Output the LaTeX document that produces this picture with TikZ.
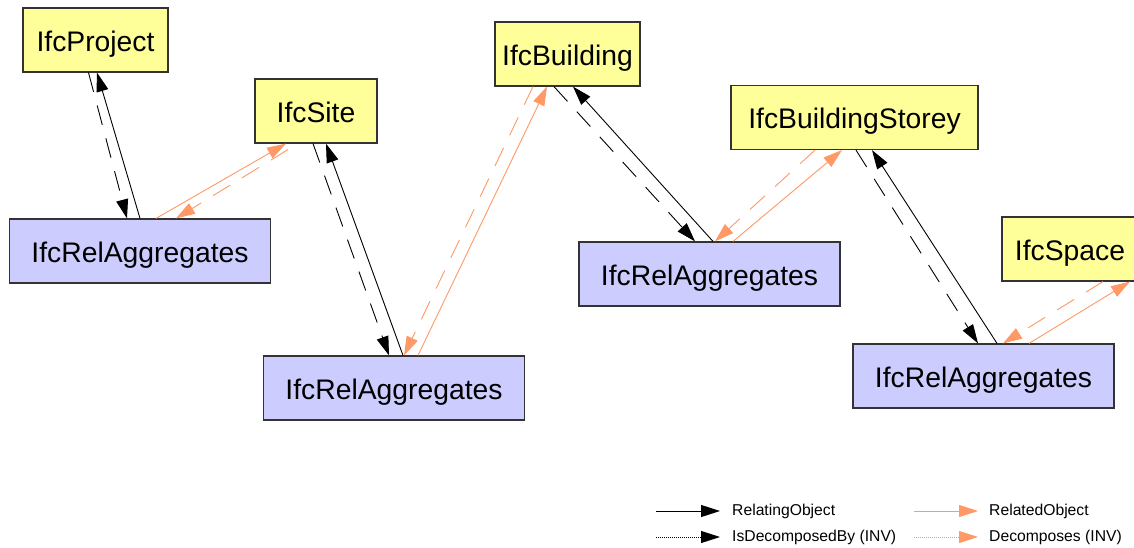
\documentclass[tikz,border=0pt]{standalone}
\usepackage{fontspec}
\setmainfont{Liberation Sans}
\usetikzlibrary{arrows.meta}
\definecolor{boxyellow}{HTML}{FFFF99}
\definecolor{boxblue}{HTML}{CCCCFF}
\definecolor{relorange}{HTML}{FF9966}
\definecolor{boxedge}{HTML}{333333}
\begin{document}
\begin{tikzpicture}[x=1pt,y=-1pt,
  ent/.style={draw=boxedge,line width=1.2pt,fill=boxyellow,minimum height=64pt,inner sep=0pt,text height=22.3pt,text depth=0pt,font=\fontsize{28.3}{34}\selectfont},
  rel/.style={draw=boxedge,line width=1.2pt,fill=boxblue,minimum width=261pt,minimum height=64pt,inner sep=0pt,text height=22.3pt,text depth=0pt,font=\fontsize{28.3}{34}\selectfont},
  tip/.style={-{Triangle[length=19pt,width=12pt]}},
  blk/.style={tip,line width=0.9pt,black},
  blkd/.style={tip,line width=0.9pt,black,dash pattern=on 20pt off 14pt},
  org/.style={tip,line width=0.9pt,relorange},
  orgd/.style={tip,line width=0.9pt,relorange,dash pattern=on 20pt off 14pt},
  legtext/.style={anchor=west,inner sep=0pt,font=\fontsize{15.7}{18}\selectfont}]
\clip (0,0) rectangle (1134,548);
\fill[white] (0,0) rectangle (1134,548);

% entity boxes
\node[ent,minimum width=145pt] (proj) at (95.5,40) {IfcProject};
\node[ent,minimum width=122pt] (site) at (316,111) {IfcSite};
\node[ent,minimum width=145pt] (bldg) at (567.5,54) {IfcBuilding};
\node[ent,minimum width=247pt] (storey) at (854.5,117.5) {IfcBuildingStorey};
\node[ent,minimum width=136pt] (space) at (1070,249) {IfcSpace};

% relationship boxes
\node[rel] (rel1) at (140,251) {IfcRelAggregates};
\node[rel] (rel2) at (394,388) {IfcRelAggregates};
\node[rel] (rel3) at (709.5,274) {IfcRelAggregates};
\node[rel] (rel4) at (983.5,376) {IfcRelAggregates};

% pair 1: project - rel1
\draw[blk] (rel1.north) -- ([xshift=1.5pt]proj.south);
\draw[blkd] ([xshift=-7pt]proj.south) -- ([xshift=-13pt]rel1.north);
% pair 2: rel1 - site
\draw[org] ([xshift=16pt]rel1.north) -- ([xshift=-30pt]site.south);
\draw[orgd] ([xshift=-28pt,yshift=-6pt]site.south) -- ([xshift=36pt]rel1.north);
% pair 3: site - rel2
\draw[blk] ([xshift=9pt]rel2.north) -- ([xshift=10pt]site.south);
\draw[blkd] ([xshift=-3pt]site.south) -- ([xshift=-5pt]rel2.north);
% pair 4: rel2 - building
\draw[org] ([xshift=24pt]rel2.north) -- ([xshift=-20.5pt]bldg.south);
\draw[orgd] ([xshift=-34.5pt]bldg.south) -- ([xshift=10pt]rel2.north);
% pair 5: building - rel3
\draw[blk] ([xshift=3.5pt]rel3.north) -- ([xshift=5.5pt]bldg.south);
\draw[blkd] ([xshift=-13.5pt]bldg.south) -- ([xshift=-14.5pt]rel3.north);
% pair 6: rel3 - storey
\draw[org] ([xshift=23.5pt]rel3.north) -- ([xshift=-12.5pt]storey.south);
\draw[orgd] ([xshift=-39.5pt]storey.south) -- ([xshift=5.5pt]rel3.north);
% pair 7: storey - rel4
\draw[blk] ([xshift=13.5pt]rel4.north) -- ([xshift=17.5pt]storey.south);
\draw[blkd] ([xshift=1.5pt]storey.south) -- ([xshift=-5.5pt]rel4.north);
% pair 8: rel4 - space
\draw[org] ([xshift=45.5pt]rel4.north) -- ([xshift=60pt]space.south);
\draw[orgd] ([xshift=33pt]space.south) -- ([xshift=19.5pt]rel4.north);

% legend
\coordinate (la1) at (656,511); \coordinate (lb1) at (720,511);
\coordinate (la2) at (656,537); \coordinate (lb2) at (720,537);
\coordinate (la3) at (914,511); \coordinate (lb3) at (978,511);
\coordinate (la4) at (914,537); \coordinate (lb4) at (978,537);
\node[legtext] (t1) at (732,511) {RelatingObject};
\node[legtext] (t2) at (732,537) {IsDecomposedBy (INV)};
\node[legtext] (t3) at (989,511) {RelatedObject};
\node[legtext] (t4) at (989,537) {Decomposes (INV)};
\draw[blk] (la1) -- (lb1);
\draw[tip,line width=0.8pt,black,dash pattern=on 1pt off 1pt] (la2) -- (lb2);
\draw[org] (la3) -- (lb3);
\draw[tip,line width=0.8pt,relorange,dash pattern=on 1pt off 1pt] (la4) -- (lb4);
\end{tikzpicture}
\end{document}
